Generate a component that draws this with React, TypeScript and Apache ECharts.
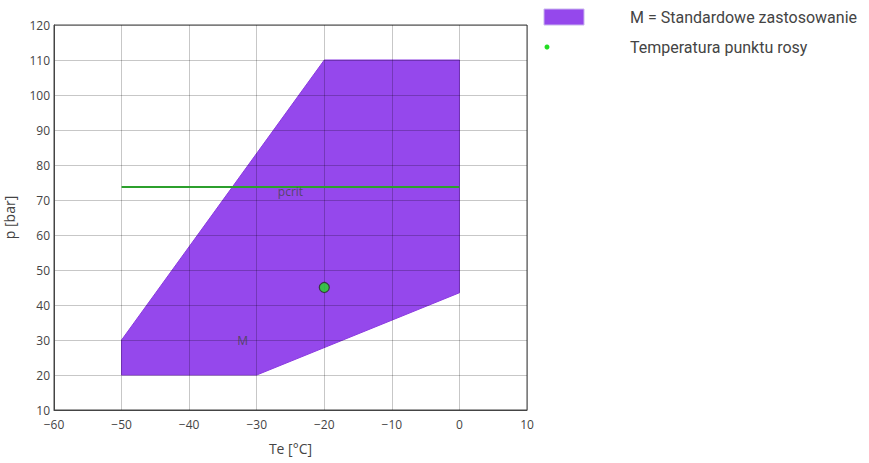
import React, { useEffect, useRef } from "react";
import * as echarts from "echarts";

const xTicks = [-60, -50, -40, -30, -20, -10, 0, 10];
const yTicks = [10, 20, 30, 40, 50, 60, 70, 80, 90, 100, 110, 120];

// Application envelope polygon "M" (Te, p)
const envelopeTe = [-50, -50, -20, 0, 0, -30];
const envelopeP = [20, 30, 110, 110, 43.5, 20];

// Critical pressure line
const pcritTe = [-50, 0];
const pcritP = [73.7, 73.7];

// Dew point temperature
const dewTe = [-20];
const dewP = [45];

// Annotation labels
const labelTexts = ["pcrit", "M"];
const labelTe = [-25, -32.1];
const labelP = [72.3, 30];

const legendTexts = ["M = Standardowe zastosowanie", "Temperatura punktu rosy"];

const PURPLE = "#9548ec";
const fmt = (v: number) => String(v).replace("-", "\u2212");

export default function App() {
  const ref = useRef<HTMLDivElement>(null);
  useEffect(() => {
    const chart = echarts.init(ref.current!, null, { renderer: "svg" });
    const polyData = envelopeTe.map((x, i) => [x, envelopeP[i]]);
    chart.setOption({
      animation: false,
      textStyle: { fontFamily: "Open Sans" },
      grid: {
        left: 54,
        right: 342,
        top: 25,
        bottom: 53,
        containLabel: false,
        outerBoundsMode: "none",
        show: true,
        borderColor: "#444",
        borderWidth: 1,
        backgroundColor: "transparent",
      },
      xAxis: {
        type: "value",
        min: xTicks[0],
        max: xTicks[xTicks.length - 1],
        interval: 10,
        z: 5,
        name: "Te [°C]",
        nameLocation: "middle",
        nameGap: 31,
        nameTextStyle: { color: "#444", fontSize: 14, fontFamily: "Open Sans" },
        axisLine: { show: true, onZero: false, lineStyle: { color: "#444" } },
        axisTick: { show: false },
        axisLabel: { color: "#444", fontSize: 12, formatter: fmt, margin: 8, lineHeight: 12 },
        splitLine: { show: true, lineStyle: { color: "rgba(0,0,0,0.22)", width: 1 } },
      },
      yAxis: {
        type: "value",
        min: yTicks[0],
        max: yTicks[yTicks.length - 1],
        interval: 10,
        z: 5,
        name: "p [bar]",
        nameLocation: "middle",
        nameGap: 38,
        nameTextStyle: { color: "#444", fontSize: 14, fontFamily: "Open Sans" },
        axisLine: { show: true, onZero: false, lineStyle: { color: "#444" } },
        axisTick: { show: false },
        axisLabel: { color: "#444", fontSize: 12, formatter: fmt, margin: 4, lineHeight: 10 },
        splitLine: { show: true, lineStyle: { color: "rgba(0,0,0,0.22)", width: 1 } },
      },
      series: [
        {
          type: "custom",
          z: 1,
          data: polyData,
          renderItem: (params: any, api: any) => {
            if (params.dataIndex !== 0) return null;
            const pts = polyData.map((p) => api.coord(p));
            return {
              type: "polygon",
              shape: { points: pts },
              style: { fill: PURPLE, stroke: "#8a3ae0", lineWidth: 1 },
            };
          },
        },
        {
          type: "line",
          z: 10,
          data: pcritTe.map((x, i) => [x, pcritP[i]]),
          symbol: "none",
          lineStyle: { color: "#2ca02c", width: 2 },
        },
        {
          type: "scatter",
          z: 11,
          data: dewTe.map((x, i) => [x, dewP[i]]),
          symbolSize: 10,
          itemStyle: { color: "#22dd22", borderColor: "#2a2a2a", borderWidth: 1.2 },
        },
        {
          type: "scatter",
          z: 12,
          symbolSize: 0,
          data: labelTe.map((x, i) => ({ value: [x, labelP[i]], name: labelTexts[i] })),
          label: {
            show: true,
            position: "inside",
            formatter: (p: any) => p.name,
            color: "#444",
            fontSize: 12,
            fontFamily: "Open Sans",
          },
        },
      ],
      graphic: [
        {
          type: "rect",
          shape: { x: 544, y: 9, width: 40, height: 16 },
          style: { fill: PURPLE, stroke: "#c8b4ee", lineWidth: 1 },
        },
        {
          type: "text",
          x: 630,
          y: 17,
          style: {
            text: legendTexts[0],
            fill: "#444",
            font: "16px Roboto",
            verticalAlign: "middle",
          },
        },
        {
          type: "circle",
          shape: { cx: 547, cy: 47, r: 2.5 },
          style: { fill: "#22dd22" },
        },
        {
          type: "text",
          x: 630,
          y: 47,
          style: {
            text: legendTexts[1],
            fill: "#444",
            font: "16px Roboto",
            verticalAlign: "middle",
          },
        },
      ],
    });
    return () => chart.dispose();
  }, []);
  return <div ref={ref} style={{ width: 869, height: 463, position: "absolute", left: 0, top: 0 }} />;
}
